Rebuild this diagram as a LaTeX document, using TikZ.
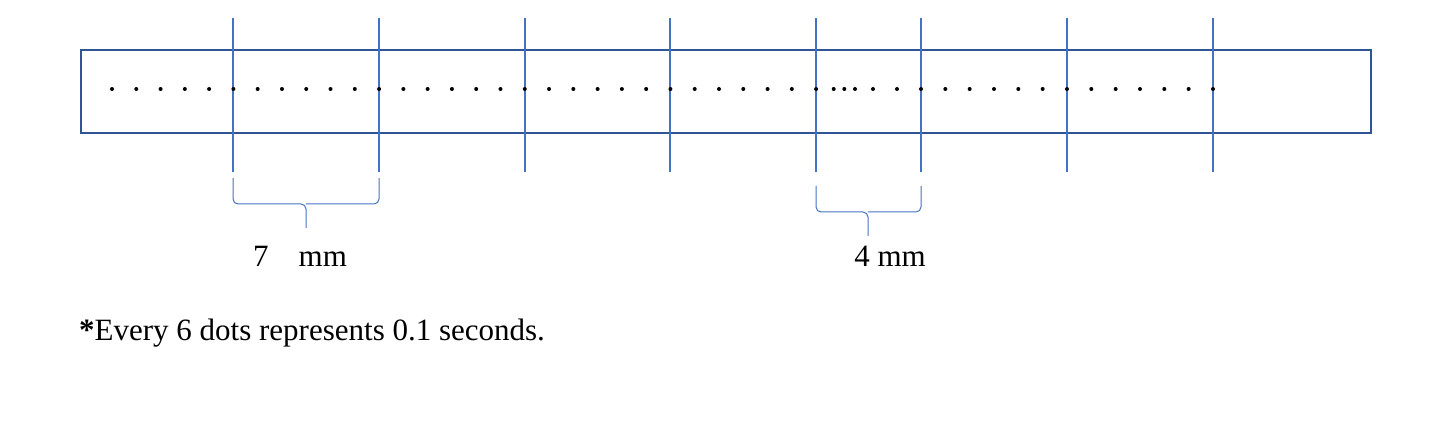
\documentclass[tikz,border=0pt]{standalone}
\usepackage{fontspec}
\setmainfont{Liberation Serif}
\definecolor{tick}{HTML}{4472C4}
\definecolor{frame}{HTML}{2F5597}
\begin{document}
\begin{tikzpicture}[x=1pt,y=-1pt,
  tickline/.style={tick,line width=2.3pt},
  bracestyle/.style={tick,line width=1pt,rounded corners=5pt},
  lbl/.style={font=\fontsize{31}{36}\selectfont,inner sep=0pt}]
\useasboundingbox (0,0) rectangle (1432,438);
\draw[frame,line width=2.6pt] (81,50) rectangle (1371,133);
\foreach \x in {233,379,525,670,816,921,1067,1213}
  \draw[tickline] (\x,18) -- (\x,172);
\foreach \k in {0,...,29} \fill (112+24.28*\k,89) circle (2);
\foreach \x in {833.7,844.3,855,873,897} \fill (\x,89) circle (2);
\foreach \k in {0,...,12} \fill (921+24.33*\k,89) circle (2);
\draw[bracestyle] (233,178) -- (233,204) -- (306,204) -- (306,228);
\draw[bracestyle] (306,204) -- (379,204) -- (379,178);
\draw[bracestyle] (816,186) -- (816,212) -- (868,212) -- (868,236);
\draw[bracestyle] (868,212) -- (921,212) -- (921,186);
\node[lbl,anchor=base west] (a) at (253,267) {7\hspace{30pt}mm};
\node[lbl,anchor=base] (b) at (890,267) {4 mm};
\node[lbl,anchor=base west] (c) at (79,340) {\textbf{*}Every 6 dots represents 0.1 seconds.};
\end{tikzpicture}
\end{document}
